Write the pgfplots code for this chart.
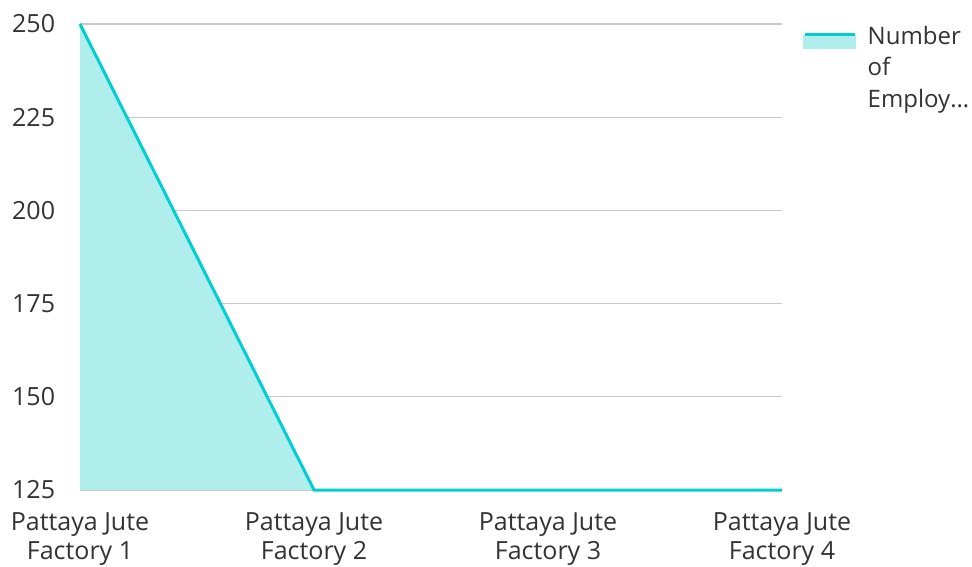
\documentclass[border=0pt]{standalone}
\usepackage{pgfplots}
\pgfplotsset{compat=1.18}
\usepackage{fontspec}
\setmainfont{Open Sans}
\definecolor{linec}{HTML}{00CED1}
\definecolor{fillc}{HTML}{B0EEEE}
\definecolor{gridc}{HTML}{C8C8C8}
\definecolor{textc}{HTML}{333333}
\begin{document}
\begin{tikzpicture}[x=1pt,y=1pt]
\path[use as bounding box] (0,0) rectangle (972,566);
\begin{axis}[
  at={(80pt,76pt)}, anchor=south west,
  scale only axis, width=702pt, height=466pt,
  xmin=0, xmax=3, ymin=125, ymax=250,
  axis line style={draw=none},
  tick style={draw=none},
  ytick={125,150,175,200,225,250},
  ymajorgrids, grid style={gridc, line width=1.2pt},
  xtick={0,1,2,3},
  xticklabels={{Pattaya Jute\\Factory 1},{Pattaya Jute\\Factory 2},{Pattaya Jute\\Factory 3},{Pattaya Jute\\Factory 4}},
  xticklabel style={align=center, font=\fontsize{25}{29.5}\selectfont, text=textc, inner sep=0pt, yshift=-22pt},
  yticklabel style={anchor=west, inner sep=0pt, xshift=-68pt, font=\fontsize{25}{29}\selectfont, text=textc},
  /pgf/number format/assume math mode=true,
  clip=false,
  legend style={at={(1.0257,1.0)}, anchor=north west, draw=none, fill=none,
    font=\fontsize{24}{31.5}\selectfont, text=textc,
    nodes={align=left, inner sep=0pt}, row sep=0pt, column sep=11pt},
  legend cell align=left,
  legend image code/.code={
    \fill[fillc] (0pt,20pt) rectangle (50pt,31pt);
    \draw[linec, line width=3.5pt] (0pt,33pt) -- (50pt,33pt);
  },
]
\addplot[draw=none, fill=fillc, forget plot] coordinates {(0,250) (1,125) (2,125) (3,125)} \closedcycle;
\addplot[linec, line width=3pt] coordinates {(0,250) (1,125) (2,125) (3,125)};
\addlegendentry{Number\\of\\Employ…}
\end{axis}
\end{tikzpicture}
\end{document}
